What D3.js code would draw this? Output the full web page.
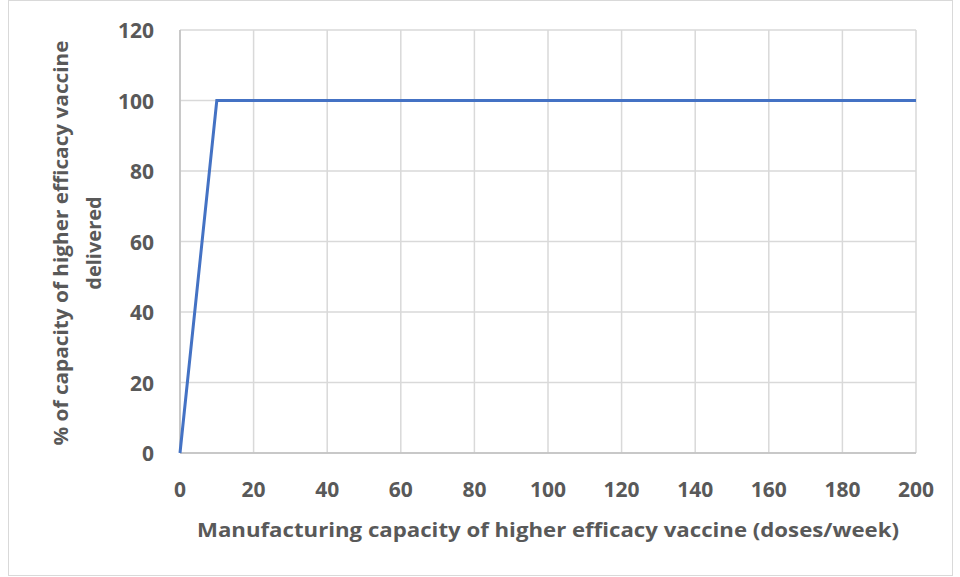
<!DOCTYPE html>
<html>
  <head>
    <script src="https://d3js.org/d3.v7.min.js"></script>
    <style>
      body { margin: 0; background: #fff; }
      text { font-family: "Open Sans", sans-serif; font-weight: bold; fill: #595959; }
    </style>
  </head>
  <body>
    <svg id="chart" width="960" height="577"></svg>
    <script>
      let capacity = [0, 10, 200]; // doses/week
      let delivered = [0, 100, 100]; // % delivered
      let xTicks = [0, 20, 40, 60, 80, 100, 120, 140, 160, 180, 200];
      let yTicks = [0, 20, 40, 60, 80, 100, 120];

      let svg = d3.select("#chart");
      let plotLeft = 180, plotRight = 916, plotTop = 30, plotBottom = 453;

      // outer chart border
      svg.append("rect")
        .attr("x", 8.5).attr("y", 0.5)
        .attr("width", 944).attr("height", 575)
        .style("fill", "none").style("stroke", "#d9d9d9");

      let x = d3.scaleLinear().domain([0, 200]).range([plotLeft, plotRight]);
      let y = d3.scaleLinear().domain([0, 120]).range([plotBottom, plotTop]);

      // gridlines
      svg.append("g").selectAll("line").data(xTicks).enter().append("line")
        .attr("x1", d => x(d)).attr("x2", d => x(d))
        .attr("y1", plotTop).attr("y2", plotBottom)
        .style("stroke", "#d9d9d9").style("stroke-width", 1.5);
      svg.append("g").selectAll("line").data(yTicks).enter().append("line")
        .attr("x1", plotLeft).attr("x2", plotRight)
        .attr("y1", d => y(d)).attr("y2", d => y(d))
        .style("stroke", "#d9d9d9").style("stroke-width", 1.5);

      // axis lines
      svg.append("line").attr("x1", plotLeft).attr("x2", plotRight)
        .attr("y1", plotBottom).attr("y2", plotBottom)
        .style("stroke", "#bfbfbf").style("stroke-width", 1.5);
      svg.append("line").attr("x1", plotLeft).attr("x2", plotLeft)
        .attr("y1", plotTop).attr("y2", plotBottom)
        .style("stroke", "#bfbfbf").style("stroke-width", 1.5);

      // tick labels
      svg.append("g").selectAll("text").data(xTicks).enter().append("text")
        .attr("x", d => x(d)).attr("y", 497)
        .attr("text-anchor", "middle")
        .style("font-size", "21px")
        .text(d => d);
      svg.append("g").selectAll("text").data(yTicks).enter().append("text")
        .attr("x", 154).attr("y", d => y(d) + 8)
        .attr("text-anchor", "end")
        .style("font-size", "21px")
        .text(d => d);

      // axis titles
      svg.append("text")
        .attr("x", 548).attr("y", 537)
        .attr("text-anchor", "middle")
        .style("font-size", "20px")
        .attr("textLength", 702).attr("lengthAdjust", "spacingAndGlyphs")
        .text("Manufacturing capacity of higher efficacy vaccine (doses/week)");
      let yTitle = svg.append("text")
        .attr("transform", "translate(0,243) rotate(-90)")
        .attr("text-anchor", "middle")
        .style("font-size", "20px");
      yTitle.append("tspan").attr("x", 0).attr("y", 68)
        .attr("textLength", 405).attr("lengthAdjust", "spacingAndGlyphs")
        .text("% of capacity of higher efficacy vaccine");
      yTitle.append("tspan").attr("x", 0).attr("y", 101)
        .text("delivered");

      // data line
      let line = d3.line().x((d, i) => x(capacity[i])).y(d => y(d));
      svg.append("path")
        .datum(delivered)
        .attr("d", line)
        .style("fill", "none")
        .style("stroke", "#4472c4")
        .style("stroke-width", 3);
    </script>
  </body>
</html>
